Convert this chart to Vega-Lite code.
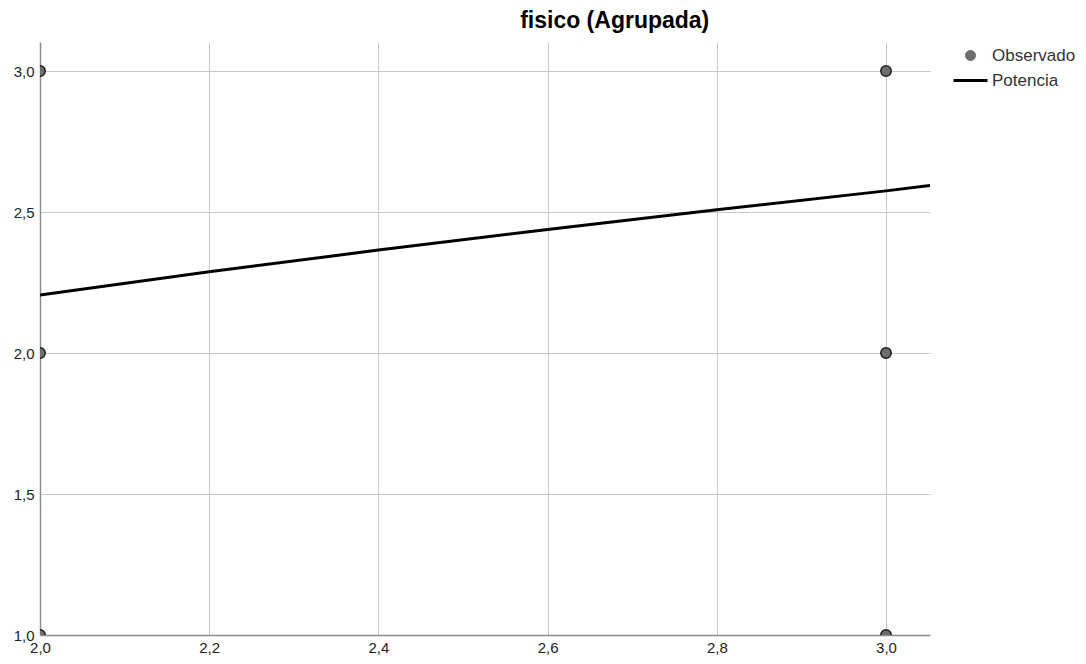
{
  "$schema": "https://vega.github.io/schema/vega-lite/v6.json",
  "autosize": "none",
  "width": 890,
  "height": 593,
  "padding": {"left": 40, "top": 42, "right": 156, "bottom": 29},
  "background": "white",
  "title": {
    "text": "fisico (Agrupada)",
    "anchor": "start",
    "dx": 507,
    "offset": 9,
    "font": "Liberation Sans",
    "fontSize": 23,
    "fontWeight": "bold",
    "color": "#000000"
  },
  "config": {
    "view": {"stroke": null},
    "axis": {
      "labelFont": "Liberation Sans",
      "labelFontSize": 15,
      "labelColor": "#222222",
      "domainColor": "#8c8c8c",
      "domainWidth": 1.5,
      "gridColor": "#c8c8c8",
      "gridWidth": 1,
      "ticks": false,
      "title": null
    }
  },
  "datasets": {
    "observado": [
      {"x": 2.0, "y": 3.0, "serie": "Observado"},
      {"x": 2.0, "y": 2.0, "serie": "Observado"},
      {"x": 2.0, "y": 1.0, "serie": "Observado"},
      {"x": 3.0, "y": 3.0, "serie": "Observado"},
      {"x": 3.0, "y": 2.0, "serie": "Observado"},
      {"x": 3.0, "y": 1.0, "serie": "Observado"}
    ],
    "potencia": [
      {"x": 2.0, "y": 2.206, "serie": "Potencia"},
      {"x": 2.2, "y": 2.288, "serie": "Potencia"},
      {"x": 2.4, "y": 2.365, "serie": "Potencia"},
      {"x": 2.6, "y": 2.438, "serie": "Potencia"},
      {"x": 2.8, "y": 2.508, "serie": "Potencia"},
      {"x": 3.0, "y": 2.575, "serie": "Potencia"},
      {"x": 3.052, "y": 2.594, "serie": "Potencia"}
    ]
  },
  "encoding": {
    "x": {
      "field": "x",
      "type": "quantitative",
      "scale": {"domain": [2, 3.052], "nice": false, "zero": false},
      "axis": {
        "values": [2.0, 2.2, 2.4, 2.6, 2.8, 3.0],
        "labelExpr": "replace(format(datum.value, '.1f'), '.', ',')",
        "labelPadding": 5,
        "labelFlush": false
      }
    },
    "y": {
      "field": "y",
      "type": "quantitative",
      "scale": {"domain": [1, 3.103], "nice": false, "zero": false},
      "axis": {
        "values": [1.0, 1.5, 2.0, 2.5, 3.0],
        "labelExpr": "replace(format(datum.value, '.1f'), '.', ',')",
        "labelPadding": 6,
        "labelFlush": false
      }
    },
    "color": {
      "field": "serie",
      "type": "nominal",
      "scale": {"domain": ["Observado", "Potencia"], "range": ["#6e6e6e", "#000000"]},
      "legend": {
        "title": null,
        "orient": "none",
        "legendX": 922,
        "legendY": 5,
        "labelFont": "Liberation Sans",
        "labelFontSize": 17,
        "labelColor": "#333333",
        "symbolSize": 100,
        "rowPadding": 7,
        "labelOffset": 13,
        "encode": {
          "symbols": {
            "update": {
              "shape": {"signal": "datum.value === 'Potencia' ? 'stroke' : 'circle'"},
              "size": {"signal": "datum.value === 'Potencia' ? 1156 : 100"},
              "fill": {"signal": "datum.value === 'Potencia' ? 'transparent' : '#6e6e6e'"},
              "stroke": {"signal": "datum.value === 'Potencia' ? '#000000' : '#6e6e6e'"},
              "strokeWidth": {"signal": "datum.value === 'Potencia' ? 3 : 1"},
              "opacity": {"value": 1}
            }
          }
        }
      }
    }
  },
  "layer": [
    {
      "data": {"name": "potencia"},
      "mark": {"type": "line", "strokeWidth": 3, "clip": true}
    },
    {
      "data": {"name": "observado"},
      "mark": {
        "type": "point",
        "filled": true,
        "size": 110,
        "opacity": 1,
        "stroke": "#1e1e1e",
        "strokeWidth": 1.5,
        "clip": true
      }
    }
  ]
}
